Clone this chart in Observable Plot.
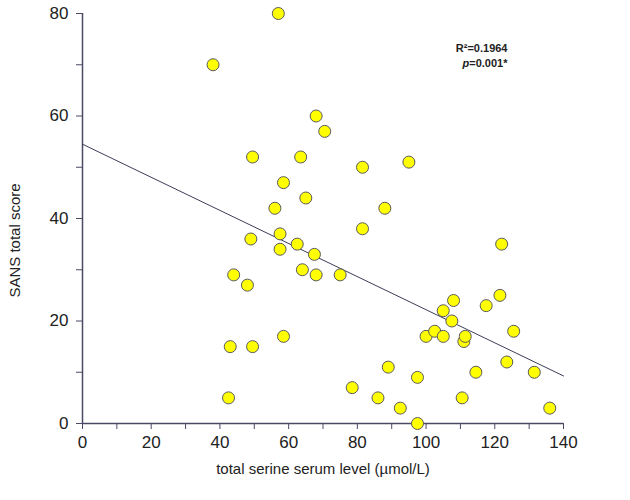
<!DOCTYPE html>
<html>
<head>
<meta charset="utf-8">
<script src="https://cdn.jsdelivr.net/npm/d3@7"></script>
<script src="https://cdn.jsdelivr.net/npm/@observablehq/plot@0.6"></script>
<style>
  html, body { margin: 0; padding: 0; background: #ffffff; }
  #chart { width: 630px; height: 500px; }
</style>
</head>
<body>
<div id="chart"></div>
<script>
// serine level (µmol/L) for each subject
const serine = [38, 57, 68, 70.5, 49.5, 63.5, 81.5, 95, 58.5, 65, 56, 88, 81.5, 49, 57.5, 57.5, 62.5, 67.5, 44, 48, 64, 68, 75, 43, 49.5, 58.5, 42.5, 78.5, 86, 89, 92.5, 97.5, 97.5, 100, 102.5, 105, 105, 107.5, 108, 111, 111.4, 110.5, 114.5, 117.5, 121.5, 122, 123.5, 125.5, 131.5, 136];
// SANS total score for each subject
const sans = [70, 80, 60, 57, 52, 52, 50, 51, 47, 44, 42, 42, 38, 36, 37, 34, 35, 33, 29, 27, 30, 29, 29, 15, 15, 17, 5, 7, 5, 11, 3, 0, 9, 17, 18, 22, 17, 20, 24, 16, 17, 5, 10, 23, 25, 35, 12, 18, 10, 3];

// fitted regression line
const fitIntercept = 54.5;
const fitSlope = -0.323;
const xDomain = [0, 140];
const yDomain = [0, 80];
const xTicks = d3.range(0, 141, 10);
const yTicks = d3.range(0, 81, 10);

const xLabel = "total serine serum level (µmol/L)";
const yLabel = "SANS total score";
const statR = "R²=0.1964";
const statP = "p=0.001*";

const points = serine.map((s, i) => ({serine: s, sans: sans[i]}));
const fitLine = xDomain.map(x => ({serine: x, sans: fitIntercept + fitSlope * x}));

const axisColor = "#4a4a66";

const chart = Plot.plot({
  width: 630,
  height: 500,
  marginLeft: 82,
  marginRight: 67,
  marginTop: 13,
  marginBottom: 77,
  style: {fontFamily: "'Liberation Sans', Arial, sans-serif", fontSize: "17px", color: "#222", background: "#fff"},
  x: {domain: xDomain},
  y: {domain: yDomain},
  marks: [
    Plot.axisX({ticks: xTicks, tickFormat: d => d % 20 ? "" : d, tickSize: 6, tickPadding: 6, stroke: axisColor, fill: "#222", fontSize: 17, label: null}),
    Plot.axisY({ticks: yTicks, tickFormat: d => d % 20 ? "" : d, tickSize: 6, tickPadding: 8, stroke: axisColor, fill: "#222", fontSize: 17, label: null}),
    Plot.ruleY([0], {stroke: axisColor, strokeWidth: 1.5}),
    Plot.ruleX([0], {stroke: axisColor, strokeWidth: 1.5}),
    Plot.line(fitLine, {x: "serine", y: "sans", stroke: "#3c3c58", strokeWidth: 1}),
    Plot.dot(points, {x: "serine", y: "sans", r: 6, fill: "#ffff00", stroke: "#5a5a5a", strokeWidth: 1}),
    Plot.text([xLabel], {frameAnchor: "bottom", dy: 50, fontSize: 15, fill: "#222"}),
    Plot.text([yLabel], {frameAnchor: "left", rotate: -90, textAnchor: "middle", dx: -67, dy: 22, fontSize: 15, fill: "#222"}),
    Plot.text([statR], {frameAnchor: "top-right", dx: -56, dy: 35, textAnchor: "end", lineAnchor: "middle", fontSize: 11, fontWeight: "bold", fill: "#222"}),
    Plot.text([statP], {frameAnchor: "top-right", dx: -56, dy: 50, textAnchor: "end", lineAnchor: "middle", fontSize: 11, fontWeight: "bold", fill: "#222"})
  ]
});

// italicise the "p" of the p-value
d3.select(chart).selectAll("text").each(function() {
  const t = d3.select(this);
  if (t.text() === statP) {
    t.text(null);
    t.append("tspan").attr("font-style", "italic").text("p");
    t.append("tspan").text(statP.slice(1));
  }
});

document.getElementById("chart").appendChild(chart);
</script>
</body>
</html>
